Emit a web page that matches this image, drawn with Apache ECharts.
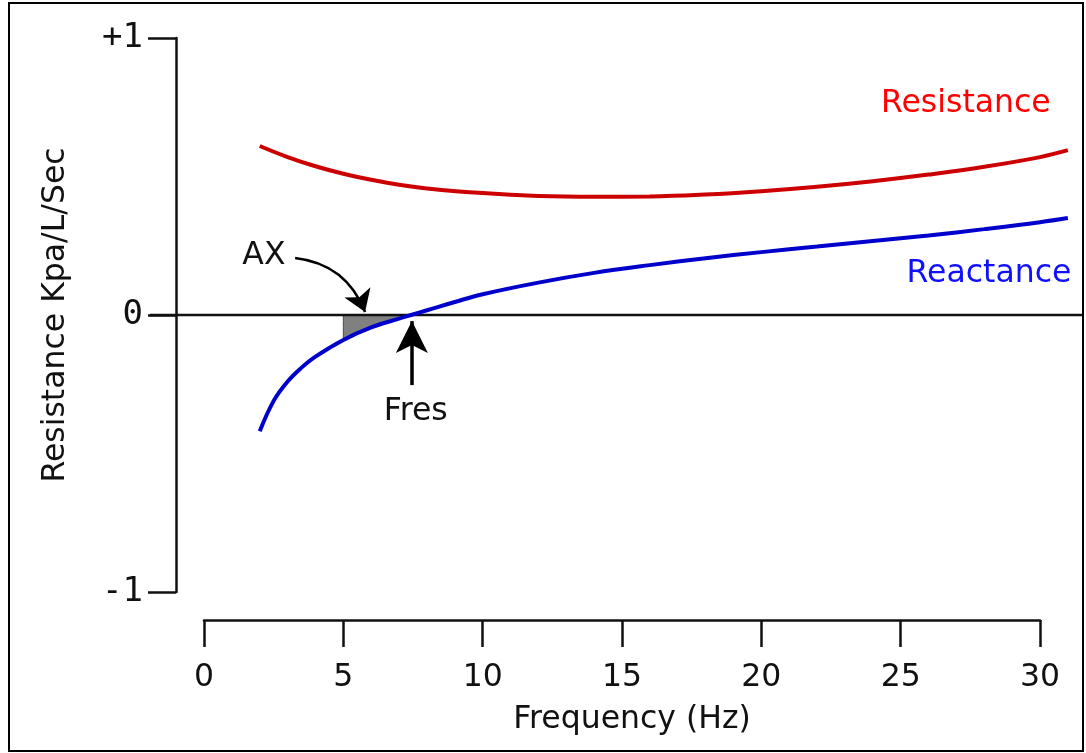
<!DOCTYPE html>
<html lang="en">
<head>
    <meta charset="UTF-8">
    <script src="https://cdn.jsdelivr.net/npm/echarts@6/dist/echarts.min.js"></script>
    <style>
        body { margin: 0; background: #fff; }
    </style>
</head>
<body>
<div id="chart" style="width: 1086px;height: 753px"></div>
<script>
    // resistance curve (red)
    var resFreq = [2, 3, 4, 5, 6, 7, 8, 10, 12, 14, 16, 18, 20, 22, 24, 26, 28, 30, 31];
    var resistance = [0.61, 0.57, 0.537, 0.51, 0.488, 0.47, 0.457, 0.44, 0.43, 0.427, 0.428, 0.435, 0.447, 0.463, 0.483, 0.507, 0.535, 0.57, 0.595];

    // reactance curve (blue)
    var reacFreq = [2, 2.5, 3, 3.5, 4, 5, 6, 7, 7.43, 8, 9, 10, 12, 14, 16, 18, 20, 22, 24, 26, 28, 30, 31];
    var reactance = [-0.42, -0.31, -0.24, -0.19, -0.15, -0.09, -0.045, -0.013, 0, 0.017, 0.047, 0.075, 0.117, 0.152, 0.18, 0.205, 0.227, 0.247, 0.267, 0.287, 0.31, 0.335, 0.35];

    // shaded AX area, between 5 Hz and the resonant frequency
    var axFreq = [5, 5, 6, 7, 7.43];
    var axValue = [0, -0.09, -0.045, -0.013, 0];

    var fres = 7.43;
    var xTicks = [0, 30, 5];          // min, max, interval
    var yTicks = [-1, 1, 1];
    var yTickLabels = {'-1': '-1', '0': '0', '1': '+1'};

    var FONT = 'DejaVu Sans';
    var FS = 31.5;

    // plot area: 0..30 Hz spans 204..1040 px; the zero line runs 150..1082 px
    var plotL = 204, plotR = 1040, W = 1086;
    var hzPx = (plotR - plotL) / (xTicks[1] - xTicks[0]);
    var wideMin = -(plotL - 150) / hzPx;
    var wideMax = xTicks[1] + (1082 - plotR) / hzPx;

    function pairs(xs, ys) {
        var out = [];
        for (var i = 0; i < xs.length; i++) {
            out.push([xs[i], ys[i]]);
        }
        return out;
    }

    var mycharts = echarts.init(document.getElementById('chart'));
    var option = {
        animation: false,
        backgroundColor: '#fff',
        graphic: [{
            type: 'rect',
            shape: {x: 9, y: 3, width: 1074, height: 748},
            style: {fill: 'none', stroke: '#000', lineWidth: 2}
        }],
        grid: [
            {left: plotL, right: W - plotR, top: 38, bottom: 161},
            {left: 150, right: W - 1082, top: 38, bottom: 161}
        ],
        xAxis: [{
            gridIndex: 0,
            type: 'value',
            min: xTicks[0],
            max: xTicks[1],
            interval: xTicks[2],
            offset: 28,
            name: 'Frequency (Hz)',
            nameLocation: 'middle',
            nameGap: 84,
            nameTextStyle: {fontFamily: FONT, fontSize: FS, color: '#111', padding: [0, 0, 0, 20]},
            axisLine: {onZero: false, lineStyle: {color: '#111', width: 2.5}},
            axisTick: {length: 27, lineStyle: {color: '#111', width: 2.5}},
            axisLabel: {fontFamily: FONT, fontSize: FS, color: '#111', margin: 42},
            splitLine: {show: false}
        }, {
            gridIndex: 1,
            type: 'value',
            min: wideMin,
            max: wideMax,
            show: false
        }],
        yAxis: [{
            gridIndex: 0,
            type: 'value',
            min: yTicks[0],
            max: yTicks[1],
            interval: yTicks[2],
            offset: 28,
            name: 'Resistance Kpa/L/Sec',
            nameLocation: 'middle',
            nameGap: 104,
            nameTextStyle: {fontFamily: FONT, fontSize: FS, color: '#111'},
            axisLine: {onZero: false, lineStyle: {color: '#111', width: 2.5}},
            axisTick: {length: 28, lineStyle: {color: '#111', width: 2.5}},
            axisLabel: {
                fontFamily: 'DejaVu Sans Mono', fontSize: 34, color: '#111', margin: 33,
                formatter: function (v) { return yTickLabels[String(v)]; }
            },
            splitLine: {show: false}
        }, {
            gridIndex: 1,
            type: 'value',
            min: yTicks[0],
            max: yTicks[1],
            show: false
        }],
        series: [{
            name: 'zero',
            type: 'line',
            xAxisIndex: 1,
            yAxisIndex: 1,
            data: [[wideMin, 0], [wideMax, 0]],
            symbol: 'none',
            lineStyle: {width: 2.5, color: '#111'},
            z: 2
        }, {
            name: 'AX',
            type: 'line',
            xAxisIndex: 1,
            yAxisIndex: 1,
            smooth: 0.3,
            data: pairs(axFreq, axValue),
            symbol: 'none',
            lineStyle: {width: 1, color: '#444'},
            areaStyle: {color: '#808080', opacity: 1},
            z: 1
        }, {
            name: 'AX arrow',
            type: 'lines',
            coordinateSystem: 'cartesian2d',
            xAxisIndex: 1,
            yAxisIndex: 1,
            silent: true,
            symbol: ['none', 'arrow'],
            symbolSize: [15, 21],
            lineStyle: {color: '#000', width: 2.5, opacity: 1, curveness: 0.3},
            data: [{coords: [[3.27, 0.206], [5.78, 0.011]]}],
            z: 4
        }, {
            name: 'Resistance',
            type: 'line',
            xAxisIndex: 1,
            yAxisIndex: 1,
            smooth: 0.4,
            data: pairs(resFreq, resistance),
            symbol: 'none',
            lineStyle: {width: 4, color: '#cc0000'},
            z: 3,
            markPoint: {
                symbol: 'rect',
                symbolSize: 1,
                itemStyle: {color: 'rgba(0,0,0,0)'},
                label: {show: true, position: 'inside', fontFamily: FONT, fontSize: FS, color: '#ff0000'},
                data: [{coord: [27.34, 0.762], value: 'Resistance'}]
            }
        }, {
            name: 'Reactance',
            type: 'line',
            xAxisIndex: 1,
            yAxisIndex: 1,
            smooth: 0.4,
            data: pairs(reacFreq, reactance),
            symbol: 'none',
            lineStyle: {width: 4, color: '#0000cc'},
            z: 3,
            markPoint: {
                symbol: 'rect',
                symbolSize: 1,
                itemStyle: {color: 'rgba(0,0,0,0)'},
                label: {show: true, position: 'inside', fontFamily: FONT, fontSize: FS, color: '#111'},
                data: [
                    {coord: [28.17, 0.148], value: 'Reactance', label: {color: '#1010ff'}},
                    {coord: [2.15, 0.213], value: 'AX'},
                    {coord: [7.6, -0.35], value: 'Fres'}
                ]
            },
            markLine: {
                silent: true,
                label: {show: false},
                symbol: ['none', 'arrow'],
                symbolSize: [24, 32],
                lineStyle: {color: '#000', width: 3.5, type: 'solid'},
                data: [[{coord: [fres + 0.03, -0.253]}, {coord: [fres + 0.03, -0.022]}]]
            }
        }]
    };
    mycharts.setOption(option);
</script>
</body>
</html>
